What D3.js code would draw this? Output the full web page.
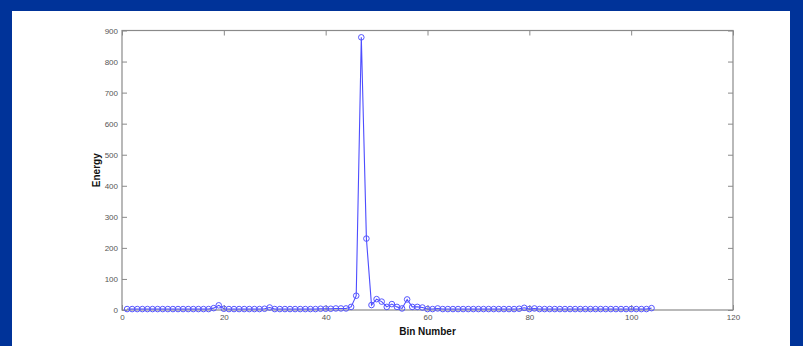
<!DOCTYPE html>
<html><head><meta charset="utf-8">
<script src="https://cdn.jsdelivr.net/npm/d3@7/dist/d3.min.js"></script>
<style>
html,body{margin:0;padding:0;background:#003399;}
svg{display:block;}
</style></head>
<body>
<svg id="chart" width="803" height="346"></svg>
<script>
const bins = d3.range(1, 105);
const energy = [
  3,3,3,3,3,3,3,3,3,3, 3,3,3,3,3,3,3,6,15,4,
  3,3,3,3,3,3,3,4,8,3, 3,3,3,3,3,3,3,3,4,4,
  4,5,5,5,10,46,878,230,16,35, 27,10,19,10,5,34,10,10,8,3,
  3,5,3,3,3,3,3,3,3,3, 3,3,3,3,3,3,3,4,7,3,
  5,3,3,3,3,3,3,3,3,3, 3,3,3,3,3,3,3,3,3,3,
  3,3,3,6
];
const xTicks = [0,20,40,60,80,100,120];
const yTicks = [0,100,200,300,400,500,600,700,800,900];
const xLabel = "Bin Number", yLabel = "Energy";

const svg = d3.select("#chart");
svg.append("rect").attr("x",12).attr("y",11).attr("width",778).attr("height",335).attr("fill","#fff");

const L=122, R=733, T=30.5, B=310;
const x = d3.scaleLinear().domain([0,120]).range([L,R]);
const y = d3.scaleLinear().domain([0,900]).range([B,T]);
const axisCol="#8a8a8a", txtCol="#555";
const font="'Liberation Sans Narrow','Arial Narrow',sans-serif";

function style(g){
  g.select(".domain").remove();
  g.selectAll("line").attr("stroke",axisCol);
  g.selectAll("text").attr("fill",txtCol).attr("font-family",font).attr("font-size",8);
}
svg.append("g").attr("transform",`translate(0,${B})`)
  .call(d3.axisBottom(x).tickValues(xTicks).tickSize(-5).tickPadding(4).tickFormat(d3.format("d")))
  .call(style);
svg.append("g").attr("transform",`translate(0,${T})`)
  .call(d3.axisTop(x).tickValues(xTicks).tickSize(-5).tickFormat(""))
  .call(style);
svg.append("g").attr("transform",`translate(${L},0)`)
  .call(d3.axisLeft(y).tickValues(yTicks).tickSize(-5).tickPadding(4).tickFormat(d3.format("d")))
  .call(style);
svg.append("g").attr("transform",`translate(${R},0)`)
  .call(d3.axisRight(y).tickValues(yTicks).tickSize(-5).tickFormat(""))
  .call(style);
svg.append("rect").attr("x",L).attr("y",T).attr("width",R-L).attr("height",B-T)
  .attr("fill","none").attr("stroke",axisCol).attr("stroke-width",1.2);

const line = d3.line().x((d,i)=>x(bins[i])).y(d=>y(d));
svg.append("path").datum(energy).attr("d",line).attr("fill","none")
  .attr("stroke","#4d4dff").attr("stroke-width",1.1);
svg.append("g").selectAll("circle").data(energy).join("circle")
  .attr("cx",(d,i)=>x(bins[i])).attr("cy",d=>y(d)).attr("r",2.8)
  .attr("fill","none").attr("stroke","#5555ff").attr("stroke-width",1);

svg.append("text").attr("x",(L+R)/2).attr("y",335).attr("text-anchor","middle")
  .attr("font-family","'Liberation Sans',Arial,sans-serif").attr("font-weight","bold")
  .attr("font-size",10).attr("fill","#111").text(xLabel);
svg.append("text").attr("transform",`translate(100,${(T+B)/2}) rotate(-90)`)
  .attr("text-anchor","middle")
  .attr("font-family","'Liberation Sans',Arial,sans-serif").attr("font-weight","bold")
  .attr("font-size",10).attr("fill","#111").text(yLabel);
</script>
</body></html>
